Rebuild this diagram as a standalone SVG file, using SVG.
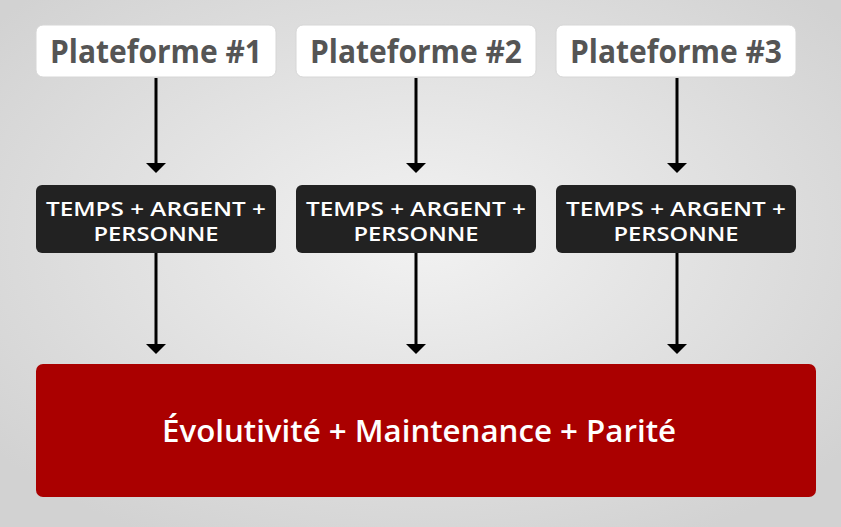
<svg xmlns="http://www.w3.org/2000/svg" width="841" height="527" viewBox="0 0 841 527">
<defs>
<radialGradient id="bg" cx="50%" cy="45%" r="65%">
<stop offset="0" stop-color="#f2f2f2"/>
<stop offset="1" stop-color="#d2d2d2"/>
</radialGradient>
<style>
.plat{fill:#fff;stroke:#d6d6d6;stroke-width:1}
.platt{font-family:"Open Sans",Lato,sans-serif;font-weight:700;font-size:32px;fill:#555;text-anchor:middle}
.cost{fill:#222}
.costt{font-family:"Open Sans",Lato,sans-serif;font-weight:600;font-size:19.5px;fill:#fff;text-anchor:middle}
.conn{stroke:#000;stroke-width:3;fill:none}
</style>
</defs>
<rect width="841" height="527" fill="url(#bg)"/>
<g id="connectors">
<line class="conn" x1="156" y1="78" x2="156" y2="166"/>
<path d="M146,163 L166,163 L156,173 Z"/>
<line class="conn" x1="416" y1="78" x2="416" y2="166"/>
<path d="M406,163 L426,163 L416,173 Z"/>
<line class="conn" x1="677" y1="78" x2="677" y2="166"/>
<path d="M667,163 L687,163 L677,173 Z"/>
<line class="conn" x1="156" y1="253" x2="156" y2="347"/>
<path d="M146,344 L166,344 L156,354 Z"/>
<line class="conn" x1="416" y1="253" x2="416" y2="347"/>
<path d="M406,344 L426,344 L416,354 Z"/>
<line class="conn" x1="677" y1="253" x2="677" y2="347"/>
<path d="M667,344 L687,344 L677,354 Z"/>
</g>
<g id="plateforme1"><rect class="plat" x="36" y="25" width="240" height="52" rx="7"/><text class="platt" x="156" y="63" textLength="212" lengthAdjust="spacingAndGlyphs">Plateforme #1</text></g>
<g id="plateforme2"><rect class="plat" x="296" y="25" width="240" height="52" rx="7"/><text class="platt" x="416" y="63" textLength="212" lengthAdjust="spacingAndGlyphs">Plateforme #2</text></g>
<g id="plateforme3"><rect class="plat" x="556" y="25" width="240" height="52" rx="7"/><text class="platt" x="676" y="63" textLength="212" lengthAdjust="spacingAndGlyphs">Plateforme #3</text></g>
<g id="cout1"><rect class="cost" x="36" y="185" width="240" height="68" rx="6"/><text class="costt" x="156" y="216" textLength="220" lengthAdjust="spacingAndGlyphs">TEMPS + ARGENT +</text><text class="costt" x="156" y="241" textLength="125" lengthAdjust="spacingAndGlyphs">PERSONNE</text></g>
<g id="cout2"><rect class="cost" x="296" y="185" width="240" height="68" rx="6"/><text class="costt" x="416" y="216" textLength="220" lengthAdjust="spacingAndGlyphs">TEMPS + ARGENT +</text><text class="costt" x="416" y="241" textLength="125" lengthAdjust="spacingAndGlyphs">PERSONNE</text></g>
<g id="cout3"><rect class="cost" x="556" y="185" width="240" height="68" rx="6"/><text class="costt" x="676" y="216" textLength="220" lengthAdjust="spacingAndGlyphs">TEMPS + ARGENT +</text><text class="costt" x="676" y="241" textLength="125" lengthAdjust="spacingAndGlyphs">PERSONNE</text></g>
<g id="resultat"><rect x="36" y="364" width="780" height="133" rx="7" fill="#aa0000"/><text x="419" y="442" font-family="'Open Sans',Lato,sans-serif" font-weight="600" font-size="30" fill="#fff" text-anchor="middle" textLength="514" lengthAdjust="spacingAndGlyphs">Évolutivité + Maintenance + Parité</text></g>
</svg>
